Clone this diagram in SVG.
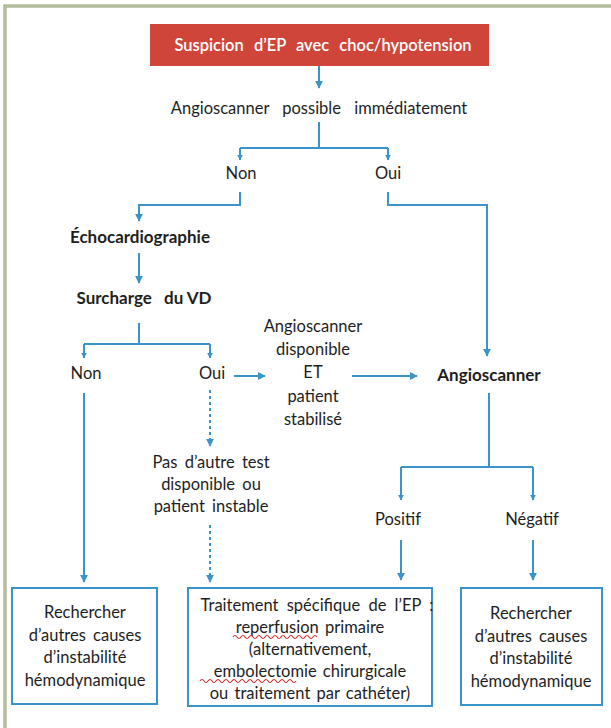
<svg xmlns="http://www.w3.org/2000/svg" width="611" height="728" viewBox="0 0 611 728">
<defs>
<marker id="ah" viewBox="0 0 10 10" refX="9" refY="5" markerWidth="8" markerHeight="8" markerUnits="userSpaceOnUse" orient="auto">
<path d="M0,0 L10,5 L0,10 z" fill="#3a93c9"/>
</marker>
<marker id="ahs" viewBox="0 0 10 10" refX="9" refY="5" markerWidth="6" markerHeight="6" markerUnits="userSpaceOnUse" orient="auto">
<path d="M0,0 L10,5 L0,10 z" fill="#3a93c9"/>
</marker>
</defs>
<style>
text{font-family:Lato,"Open Sans","Liberation Sans",sans-serif;font-size:16.5px;fill:#1e1e1e;text-anchor:middle}
.b{font-weight:bold;font-size:17px}
.c{fill:none;stroke:#3a93c9;stroke-width:2}
.d{stroke-dasharray:3 3}
.box{fill:#fff;stroke:#3a93c9;stroke-width:2}
.sq{fill:none;stroke:#d0312d;stroke-width:1.2}
</style>
<rect width="611" height="728" fill="#fff"/>
<g id="frame">
<path d="M5,728 V6 H611" fill="none" stroke="#8f9e70" stroke-width="3"/>
<path d="M5,728 V6 H611" fill="none" stroke="#d6dcc4" stroke-width="1"/>
</g>
<g id="connectors">
<path class="c" d="M319,66 V88" marker-end="url(#ah)"/>
<path class="c" d="M319,122 V148 M240,148 H388" />
<path class="c" d="M240,148 V160" marker-end="url(#ahs)"/>
<path class="c" d="M388,148 V160" marker-end="url(#ahs)"/>
<path class="c" d="M240,192 V205 H139 V221" marker-end="url(#ah)"/>
<path class="c" d="M388,192 V205 H487 V356" marker-end="url(#ah)"/>
<path class="c" d="M139,253 V283" marker-end="url(#ah)"/>
<path class="c" d="M139,323 V344 M84,344 H210"/>
<path class="c" d="M84,344 V358" marker-end="url(#ahs)"/>
<path class="c" d="M210,344 V358" marker-end="url(#ahs)"/>
<path class="c" d="M234,376 H265" marker-end="url(#ah)"/>
<path class="c" d="M352,376 H417" marker-end="url(#ah)"/>
<path class="c" d="M84,393 V582" marker-end="url(#ah)"/>
<path class="c d" d="M210,390 V446" marker-end="url(#ah)"/>
<path class="c d" d="M210,525 V582" marker-end="url(#ah)"/>
<path class="c" d="M489,393 V467 M401,467 H533"/>
<path class="c" d="M401,467 V500" marker-end="url(#ahs)"/>
<path class="c" d="M533,467 V500" marker-end="url(#ahs)"/>
<path class="c" d="M401,540 V580" marker-end="url(#ah)"/>
<path class="c" d="M533,540 V580" marker-end="url(#ah)"/>
</g>
<g id="start">
<rect x="150" y="24" width="339" height="42" fill="#d0453a"/>
<text x="323" y="51" style="fill:#fff;font-size:16.5px;font-weight:600" word-spacing="6">Suspicion d’EP avec choc/hypotension</text>
</g>
<g id="q1"><text x="319" y="114" word-spacing="9">Angioscanner possible immédiatement</text></g>
<g id="non1"><text x="241" y="179">Non</text></g>
<g id="oui1"><text x="388" y="179">Oui</text></g>
<g id="echo"><text x="140" y="243" class="b">Échocardiographie</text></g>
<g id="vd"><text x="144" y="304" class="b">Surcharge <tspan dx="8">du VD</tspan></text></g>
<g id="non2"><text x="86" y="379">Non</text></g>
<g id="oui2"><text x="212" y="379">Oui</text></g>
<g id="cond">
<text x="313" y="332">Angioscanner</text>
<text x="313" y="355">disponible</text>
<text x="313" y="378">ET</text>
<text x="313" y="402">patient</text>
<text x="313" y="425">stabilisé</text>
</g>
<g id="angio"><text x="489" y="381" class="b">Angioscanner</text></g>
<g id="pasautre">
<text x="211" y="468" word-spacing="3">Pas d’autre test</text>
<text x="211" y="490" word-spacing="3">disponible ou</text>
<text x="211" y="512" word-spacing="3">patient instable</text>
</g>
<g id="positif"><text x="398" y="525">Positif</text></g>
<g id="negatif"><text x="532" y="525">Négatif</text></g>
<g id="box-left">
<rect class="box" x="12" y="588" width="145" height="116"/>
<text x="85" y="618">Rechercher</text>
<text x="85" y="641" word-spacing="3">d’autres causes</text>
<text x="85" y="663">d’instabilité</text>
<text x="85" y="686">hémodynamique</text>
</g>
<g id="box-mid">
<rect class="box" x="188" y="588" width="244" height="118"/>
<text x="317" y="611" word-spacing="4">Traitement spécifique de l’EP :</text>
<text x="310" y="633" word-spacing="2">reperfusion primaire</text>
<text x="310" y="655">(alternativement,</text>
<text x="310" y="677" word-spacing="2">embolectomie chirurgicale</text>
<text x="310" y="699" word-spacing="2">ou traitement par cathéter)</text>
<path class="sq" d="M233,637 q2,-3 4,0 t4,0 t4,0 t4,0 t4,0 t4,0 t4,0 t4,0 t4,0 t4,0 t4,0 t4,0 t4,0 t4,0 t4,0 t4,0 t4,0 t4,0 t4,0 t4,0 t4,0"/>
<path class="sq" d="M200,681 q2,-3 4,0 t4,0 t4,0 t4,0 t4,0 t4,0 t4,0 t4,0 t4,0 t4,0 t4,0 t4,0 t4,0 t4,0 t4,0 t4,0 t4,0 t4,0 t4,0 t4,0 t4,0 t4,0 t4,0 t4,0"/>
</g>
<g id="box-right">
<rect class="box" x="461" y="588" width="141" height="117"/>
<text x="531" y="619">Rechercher</text>
<text x="531" y="642" word-spacing="3">d’autres causes</text>
<text x="531" y="664">d’instabilité</text>
<text x="531" y="687">hémodynamique</text>
</g>
</svg>
